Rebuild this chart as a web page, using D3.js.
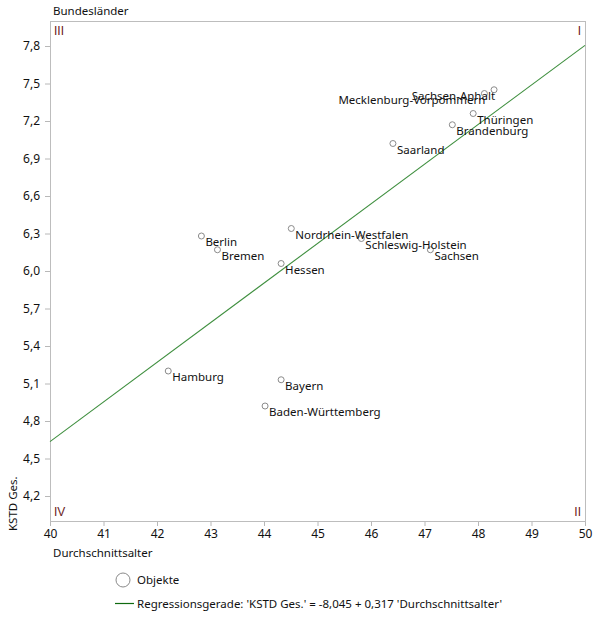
<!DOCTYPE html>
<html>
<head>
<meta charset="utf-8">
<script src="https://cdn.jsdelivr.net/npm/d3@7"></script>
<style>
  body { margin: 0; background: #fff; }
  svg text { font-family: "Noto Sans", "DejaVu Sans", sans-serif; }
  svg text.quad { font-family: "Liberation Sans", "DejaVu Sans", sans-serif; }
</style>
</head>
<body>
<div id="chart"></div>
<script>
// Bundesländer: Durchschnittsalter vs. KSTD Ges.
var laender = ["Sachsen-Anhalt", "Mecklenburg-Vorpommern", "Thüringen", "Brandenburg", "Saarland",
	"Berlin", "Bremen", "Nordrhein-Westfalen", "Schleswig-Holstein", "Sachsen", "Hessen",
	"Hamburg", "Bayern", "Baden-Württemberg"];
var alter = [48.30, 48.12, 47.91, 47.52, 46.41, 42.83, 43.13, 44.51, 45.82, 47.11, 44.32, 42.21, 44.32, 44.02];
var kstd  = [7.45, 7.42, 7.26, 7.17, 7.02, 6.28, 6.17, 6.34, 6.26, 6.17, 6.06, 5.20, 5.13, 4.92];

// labels that sit on the left side of their point
var leftLabels = ["Sachsen-Anhalt", "Mecklenburg-Vorpommern"];

var xTicks = [40, 41, 42, 43, 44, 45, 46, 47, 48, 49, 50];
var yTicks = [4.2, 4.5, 4.8, 5.1, 5.4, 5.7, 6.0, 6.3, 6.6, 6.9, 7.2, 7.5, 7.8];

var intercept = -8.045, slope = 0.317;
var legendText = "Regressionsgerade: 'KSTD Ges.' = -8,045 + 0,317 'Durchschnittsalter'";

var W = 596, H = 630;
var plotL = 50, plotR = 585, plotT = 21, plotB = 521;
var FS = "11.5px";

var de = d3.formatLocale({decimal: ",", thousands: ".", grouping: [3], currency: ["", " €"]});
var fmt1 = de.format(".1f");

var svg = d3.select("#chart")
	.append("svg")
	.attr("width", W)
	.attr("height", H);

var x = d3.scaleLinear().domain([40, 50]).range([plotL, plotR]);
var y = d3.scaleLinear().domain([4, 8]).range([plotB, plotT]);

// axes
var xAxis = svg.append("g")
	.attr("transform", "translate(0," + plotB + ")")
	.call(d3.axisBottom(x).tickValues(xTicks).tickFormat(d3.format("d")).tickSize(5).tickPadding(3));
var yAxis = svg.append("g")
	.attr("transform", "translate(" + plotL + ",0)")
	.call(d3.axisLeft(y).tickValues(yTicks).tickFormat(fmt1).tickSize(5).tickPadding(5));

[xAxis, yAxis].forEach(function(a) {
	a.select(".domain").remove();
	a.selectAll("line").attr("stroke", "#b8b8b8");
	a.selectAll("text")
		.attr("font-family", null)
		.style("font-size", "12px")
		.attr("fill", "#111");
});

// plot frame
svg.append("rect")
	.attr("x", plotL + 0.5)
	.attr("y", plotT + 0.5)
	.attr("width", plotR - plotL)
	.attr("height", plotB - plotT)
	.attr("fill", "none")
	.attr("stroke", "#bdbdbd");

// quadrant labels
var quad = [
	{t: "III", x: plotL + 4, y: plotT + 14, a: "start"},
	{t: "I", x: plotR - 4, y: plotT + 14, a: "end"},
	{t: "IV", x: plotL + 4, y: plotB - 5, a: "start"},
	{t: "II", x: plotR - 4, y: plotB - 5, a: "end"}
];
svg.selectAll(".quad")
	.data(quad)
	.enter()
	.append("text")
	.attr("class", "quad")
	.attr("x", d => d.x)
	.attr("y", d => d.y)
	.attr("text-anchor", d => d.a)
	.style("font-size", "12px")
	.style("fill", "#6b2222")
	.text(d => d.t);

// regression line
svg.append("line")
	.attr("x1", x(40))
	.attr("y1", y(intercept + slope * 40))
	.attr("x2", x(50))
	.attr("y2", y(intercept + slope * 50))
	.attr("stroke", "#3f8f3f")
	.attr("stroke-width", 1.1);

// points
var pts = laender.map((n, i) => ({name: n, a: alter[i], k: kstd[i]}));

svg.append("g")
	.selectAll("circle")
	.data(pts)
	.enter()
	.append("circle")
	.attr("cx", d => x(d.a))
	.attr("cy", d => y(d.k))
	.attr("r", 3)
	.attr("fill", "#fff")
	.attr("stroke", "#8a8a8a");

svg.append("g")
	.selectAll("text")
	.data(pts)
	.enter()
	.append("text")
	.attr("x", d => leftLabels.includes(d.name) ? x(d.a) + 1 : x(d.a) + 4)
	.attr("y", d => y(d.k) + 10)
	.attr("text-anchor", d => leftLabels.includes(d.name) ? "end" : "start")
	.style("font-size", FS)
	.style("fill", "#111")
	.text(d => d.name);

// axis titles
svg.append("text")
	.attr("x", 53)
	.attr("y", 15)
	.style("font-size", FS)
	.style("fill", "#111")
	.text("Bundesländer");

svg.append("text")
	.attr("x", 53)
	.attr("y", 557)
	.style("font-size", FS)
	.style("fill", "#111")
	.text("Durchschnittsalter");

svg.append("text")
	.attr("transform", "translate(17,531) rotate(-90)")
	.style("font-size", FS)
	.style("fill", "#111")
	.text("KSTD Ges.");

// legend
svg.append("circle")
	.attr("cx", 123)
	.attr("cy", 580)
	.attr("r", 7)
	.attr("fill", "#fff")
	.attr("stroke", "#8a8a8a");
svg.append("text")
	.attr("x", 137)
	.attr("y", 584)
	.style("font-size", FS)
	.style("fill", "#111")
	.text("Objekte");

svg.append("line")
	.attr("x1", 115)
	.attr("x2", 134)
	.attr("y1", 603.5)
	.attr("y2", 603.5)
	.attr("stroke", "#0f6a0f")
	.attr("stroke-width", 1.2);
svg.append("text")
	.attr("x", 137)
	.attr("y", 608)
	.style("font-size", FS)
	.style("fill", "#111")
	.text(legendText);
</script>
</body>
</html>
